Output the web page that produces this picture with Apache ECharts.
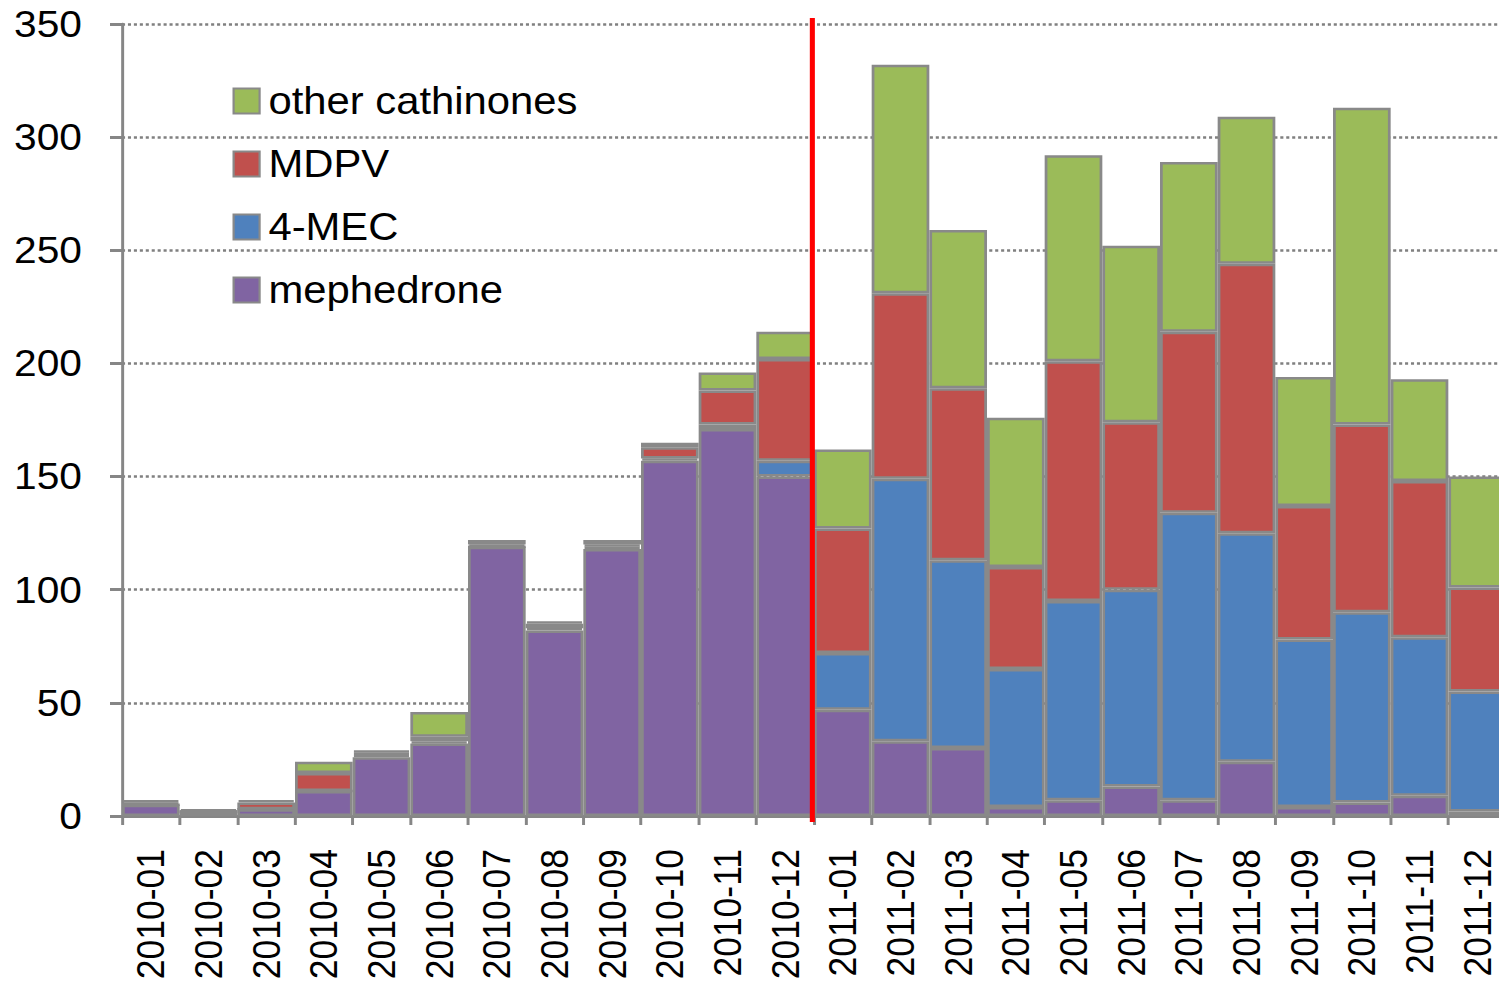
<!DOCTYPE html>
<html>
<head>
<meta charset="utf-8">
<script src="https://cdn.jsdelivr.net/npm/echarts@6/dist/echarts.min.js"></script>
<style>
html,body{margin:0;padding:0;background:#fff;overflow:hidden;width:1499px;height:985px;}
#chart{width:1363px;height:985px;transform:scaleX(1.1);transform-origin:0 0;}
</style>
</head>
<body>
<div id="chart"></div>
<script>
const categories = ['2010-01','2010-02','2010-03','2010-04','2010-05','2010-06','2010-07','2010-08','2010-09','2010-10','2010-11','2010-12',
  '2011-01','2011-02','2011-03','2011-04','2011-05','2011-06','2011-07','2011-08','2011-09','2011-10','2011-11','2011-12'];
const mephedrone = [5, 2, 3, 11, 26, 32, 119, 82, 118, 157, 171, 150, 47, 33, 30, 4, 7, 13, 7, 24, 4, 6, 9, 2];
const mec4       = [0, 0, 0, 0, 1, 1, 0, 1, 1, 1, 2, 7, 25, 116, 83, 61, 88, 87, 127, 101, 74, 84, 70, 53];
const mdpv       = [1, 0, 3, 8, 1, 2, 1, 2, 1, 5, 15, 45, 55, 82, 76, 45, 106, 74, 80, 119, 59, 83, 69, 46];
const other      = [1, 1, 1, 5, 1, 11, 2, 1, 2, 2, 8, 12, 35, 101, 70, 66, 91, 78, 75, 65, 57, 140, 45, 49];
const yTicks = [0, 50, 100, 150, 200, 250, 300, 350];
const dividerAfter = '2010-12';
const dividerBefore = '2011-01';

const SX = 1.1; // horizontal stretch of the reference rendering
const FONT = "'Liberation Sans', Arial, Helvetica, sans-serif";
const BORDER = '#898989';
function bar(name, data, color) {
  return {
    name: name, type: 'bar', stack: 'total', data: data,
    barCategoryGap: '0%',
    itemStyle: { color: color, borderColor: BORDER, borderWidth: 2.5 },
    emphasis: { disabled: true }
  };
}
const chart = echarts.init(document.getElementById('chart'), null, { renderer: 'svg' });
const option = {
  backgroundColor: '#ffffff',
  animation: false,
  grid: { left: 122 / SX, width: 1384 / SX, top: 24, bottom: 169, containLabel: false, outerBoundsMode: 'none' },
  legend: {
    orient: 'vertical', left: 227 / SX, top: 75,
    data: ['other cathinones', 'MDPV', '4-MEC', 'mephedrone'],
    itemWidth: 26 / SX, itemHeight: 25, itemGap: 21,
    icon: 'rect',
    textStyle: { fontFamily: FONT, fontSize: 38, color: '#000', lineHeight: 42, padding: [0, 0, 0, 3] }
  },
  xAxis: {
    type: 'category', data: categories,
    boundaryGap: true,
    axisLine: { lineStyle: { color: '#868686', width: 3 } },
    axisTick: { show: true, length: 9, lineStyle: { color: '#868686', width: 2.7 }, alignWithLabel: false },
    axisLabel: { rotate: 90, interval: 0, margin: 33, fontFamily: FONT, fontSize: 35.5, color: '#000', padding: [12, 0, 0, 0] },
    splitLine: { show: false }
  },
  yAxis: {
    type: 'value', min: yTicks[0], max: yTicks[yTicks.length - 1], interval: yTicks[1] - yTicks[0],
    axisLine: { show: true, lineStyle: { color: '#868686', width: 2.7 } },
    axisTick: { show: true, length: 12 / SX, lineStyle: { color: '#868686', width: 3 } },
    axisLabel: { margin: 40 / SX, fontFamily: FONT, fontSize: 37, color: '#000' },
    splitLine: { show: true, lineStyle: { color: '#808080', width: 2.5, type: [2.8, 2.6] } }
  },
  series: [
    bar('mephedrone', mephedrone, '#8064A2'),
    bar('4-MEC', mec4, '#4F81BD'),
    bar('MDPV', mdpv, '#C0504D'),
    bar('other cathinones', other, '#9BBB59')
  ]
};
chart.setOption(option);
const xa = chart.convertToPixel({ xAxisIndex: 0 }, dividerAfter);
const xb = chart.convertToPixel({ xAxisIndex: 0 }, dividerBefore);
const yTop = chart.convertToPixel({ yAxisIndex: 0 }, yTicks[yTicks.length - 1]);
const yBot = chart.convertToPixel({ yAxisIndex: 0 }, yTicks[0]);
const xm = (xa + xb) / 2 - 1.5;
chart.setOption({
  graphic: [{
    type: 'line', z: 100,
    shape: { x1: xm, y1: yTop - 6, x2: xm, y2: yBot + 6 },
    style: { stroke: '#ff0000', lineWidth: 4.6 }
  }]
});
</script>
</body>
</html>
